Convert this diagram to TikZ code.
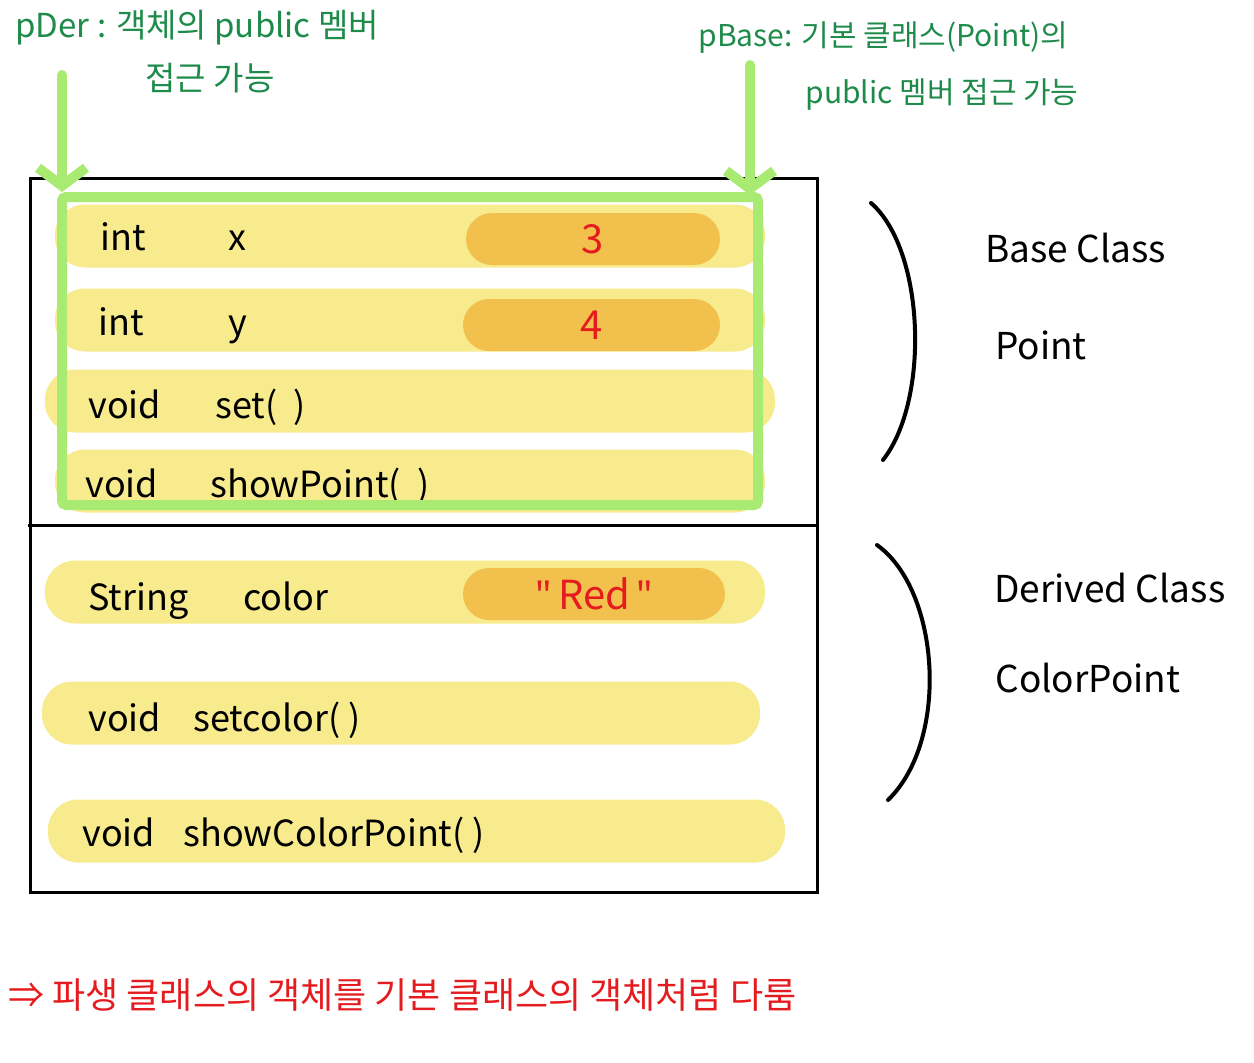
\documentclass[tikz,border=0pt]{standalone}
\usepackage{fontspec}
\setmainfont{Noto Sans CJK KR}
\newfontfamily\quotefont{Noto Sans}
\usetikzlibrary{arrows.meta}
\definecolor{ybar}{HTML}{F8EB8D}
\definecolor{opill}{HTML}{F2C04C}
\definecolor{gline}{HTML}{A9EB72}
\definecolor{dgreen}{HTML}{1E8B4B}
\definecolor{redtext}{HTML}{E51C1F}
\begin{document}
\begin{tikzpicture}[x=0.5pt,y=-0.5pt,
  bar/.style={fill=ybar, rounded corners=15pt, minimum height=31.5pt, inner sep=0pt},
  pill/.style={fill=opill, rounded corners=13pt, minimum height=26pt, minimum width=127pt, inner sep=0pt, text=redtext, font=\fontsize{20}{22}\selectfont},
  code/.style={anchor=base west, font=\fontsize{18}{20}\selectfont, inner sep=0pt},
  note/.style={text=dgreen, font=\fontsize{15}{17}\selectfont, inner sep=0pt},
  side/.style={anchor=west, font=\fontsize{18.5}{21}\selectfont, inner sep=0pt},
  brace/.style={line width=2pt, line cap=round},
  garrow/.style={draw=gline, line width=5pt, line cap=round, -{Straight Barb[length=9pt,width=24pt]}},
  gframe/.style={draw=gline, line width=5pt, rounded corners=2pt, inner sep=0pt}
]
\useasboundingbox (0,0) rectangle (1254,1062);

% outer box and divider
\node[draw, line width=1.5pt, minimum width=393.5pt, minimum height=357pt, inner sep=0pt] (outer) at (423.5,535) {};
\coordinate (divL) at (28,525);
\draw[line width=1.5pt] (divL) -- (outer.east |- divL);

% yellow bars
\node[bar, minimum width=355pt] (bar1) at (410,236) {};
\node[bar, minimum width=355pt] (bar2) at (410,320) {};
\node[bar, minimum width=365pt] (bar3) at (410,401) {};
\node[bar, minimum width=355pt] (bar4) at (410,481) {};
\node[bar, minimum width=360pt] (bar5) at (405,592) {};
\node[bar, minimum width=359pt] (bar6) at (401,713) {};
\node[bar, minimum width=368.5pt] (bar7) at (416.5,831) {};

% value pills
\node[pill] (p1) at (593,239) {3};
\node[pill, minimum width=128.5pt] (p2) at (591.5,325) {4};
\node[pill, minimum width=131pt] (p5) at (594,594) {{\quotefont\symbol{34}}\,Red\,{\quotefont\symbol{34}}};

% code text
\node[code] (t1) at (100,250) {int};
\node[code] (n1) at (228,250) {x};
\node[code] (t2) at (98,335) {int};
\node[code] (n2) at (228,335) {y};
\node[code] (t3) at (88,418) {void};
\node[code] (n3) at (215,418) {set(\ \ )};
\node[code] (t4) at (85,497) {void};
\node[code] (n4) at (210,497) {showPoint(\ \ )};
\node[code] (t5) at (88,610) {String};
\node[code] (n5) at (243,610) {color};
\node[code] (t6) at (88,731) {void};
\node[code] (n6) at (193,731) {setcolor( )};
\node[code] (t7) at (82,846) {void};
\node[code] (n7) at (183,846) {showColorPoint( )};

% green frame and arrows
\node[gframe, minimum width=348pt, minimum height=154pt] (gf) at (410,351) {};
\coordinate (pderS) at (62,75);
\coordinate (pbaseS) at (750,65);
\coordinate (pbaseE) at (750,195);
\draw[garrow] (pderS) -- (pderS |- gf.north);
\draw[garrow] (pbaseS) -- (pbaseE);

% green notes
\node[note, anchor=west, font=\fontsize{16.5}{18}\selectfont] (nd1) at (15,28) {pDer : 객체의 public 멤버};
\node[note, font=\fontsize{16.5}{18}\selectfont] (nd2) at (210,78) {접근 가능};
\node[note, anchor=west] (nb1) at (698,38) {pBase: 기본 클래스(Point)의};
\node[note, anchor=west] (nb2) at (805,95) {public 멤버 접근 가능};

% braces
\coordinate (b1s) at (871,203);
\coordinate (b1e) at (883,460);
\coordinate (b2s) at (877,545);
\coordinate (b2e) at (888,800);
\draw[brace] (b1s) .. controls (925,250) and (930,400) .. (b1e);
\draw[brace] (b2s) .. controls (940,590) and (950,740) .. (b2e);

% side labels
\node[side] (bc) at (985,248) {Base Class};
\node[side] (bp) at (995,345) {Point};
\node[side] (dc) at (994,588) {Derived Class};
\node[side] (dp) at (995,678) {ColorPoint};

% bottom remark
\node[anchor=west, text=redtext, font=\fontsize{18}{20}\selectfont, inner sep=0pt] (rem) at (8,995) {⇒ 파생 클래스의 객체를 기본 클래스의 객체처럼 다룸};
\end{tikzpicture}
\end{document}
